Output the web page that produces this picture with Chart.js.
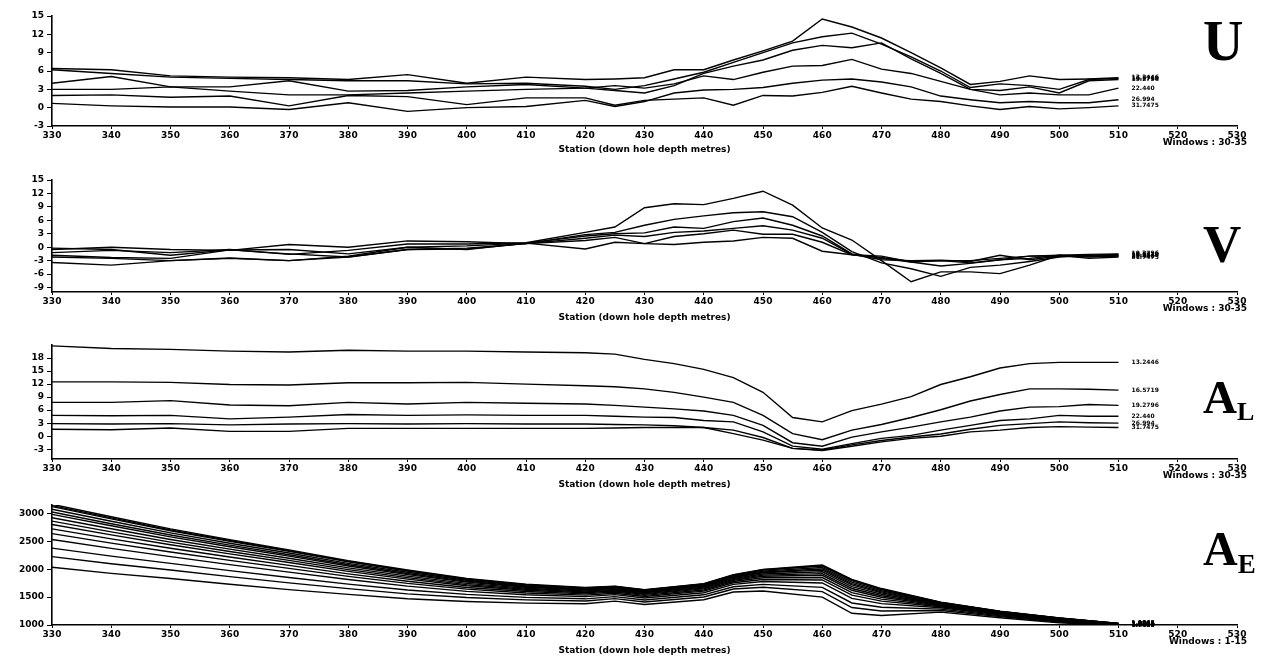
<!DOCTYPE html>
<html><head><meta charset="utf-8">
<script src="https://cdn.jsdelivr.net/npm/chart.js@4.4.1/dist/chart.umd.min.js"></script>
<style>
html,body{margin:0;padding:0;background:#fff;}
#wrap{position:relative;width:1266px;height:656px;overflow:hidden;background:#fff;}
canvas{position:absolute;left:0;}
.big{position:absolute;font-family:"Liberation Serif","Times New Roman",serif;font-weight:bold;color:#000;line-height:1;white-space:nowrap;}
.big span{position:relative;}
</style></head><body>
<div id="wrap">
<canvas id="cU" width="1266" height="160" style="top:0px"></canvas>
<canvas id="cV" width="1266" height="168" style="top:160px"></canvas>
<canvas id="cL" width="1266" height="166" style="top:328px"></canvas>
<canvas id="cE" width="1266" height="162" style="top:494px"></canvas>
<div class="big" style="left:1203px;top:13px;font-size:56px">U</div>
<div class="big" style="left:1203px;top:218px;font-size:53px">V</div>
<div class="big" style="left:1203px;top:374px;font-size:47px">A<span style="font-size:26px;top:7px">L</span></div>
<div class="big" style="left:1203px;top:525px;font-size:48px">A<span style="font-size:27px;top:8px">E</span></div>
</div>
<script>
// ---------- data ----------
const stations = [330,340,350,360,370,380,390,400,410,420,425,430,435,440,445,450,455,460,465,470,475,480,485,490,495,500,505,510];
const windowLabels = ['13.2446','16.5719','19.2796','22.440','26.994','31.7475'];

const U1 = [6.4,6.2,5.2,5.0,4.9,4.6,5.4,4.0,5.0,4.6, 4.7,4.9,6.2,6.2,7.8,9.3,10.9,14.5,13.2,11.4,9.0,6.5,3.8,4.3,5.2,4.6,4.7,4.9];
const U2 = [6.2,5.6,5.0,4.8,4.6,4.4,4.4,3.9,4.0,3.5, 3.0,3.6,4.7,5.8,7.4,9.0,10.6,11.6,12.2,10.4,8.3,6.0,3.3,3.9,3.6,3.0,4.6,4.8];
const U3 = [4.0,5.1,3.4,3.4,4.4,2.7,2.8,3.4,3.8,3.2, 2.8,2.4,3.6,5.6,6.8,7.8,9.4,10.2,9.8,10.6,8.0,5.6,3.0,2.8,3.4,2.4,4.4,4.6];
const U4 = [3.0,3.0,3.4,2.7,2.1,2.1,2.4,2.7,3.0,3.2, 3.6,3.2,3.9,5.2,4.6,5.8,6.8,6.9,7.9,6.3,5.6,4.3,3.0,2.1,2.4,2.1,2.1,3.2];
const U5 = [0.7,0.3,0.1,0.1,-0.3,0.8,-0.6,0.0,0.2,1.2, 0.2,1.0,2.4,2.9,3.0,3.3,4.0,4.5,4.7,4.2,3.4,1.9,1.3,0.8,1.0,0.8,0.8,1.3];
const U6 = [2.0,2.1,1.7,1.9,0.3,2.0,1.8,0.5,1.6,1.6, 0.4,1.2,1.4,1.6,0.4,2.0,1.9,2.5,3.5,2.4,1.4,1.0,0.3,-0.3,0.2,-0.2,0.0,0.3];

const V1 = [-1.2,-0.7,-1.2,-0.5,-1.6,-0.7,0.7,0.7,1.0,3.3, 4.5,8.8,9.7,9.5,10.9,12.5,9.4,4.3,1.6,-3.0,-7.7,-5.5,-5.5,-5.9,-4.0,-1.8,-2.0,-1.8];
const V2 = [-0.5,0.0,-0.5,-0.7,0.6,0.0,1.4,1.2,0.8,2.8, 3.3,4.9,6.2,7.0,7.7,7.9,6.8,3.3,-1.0,-3.5,-4.8,-6.5,-4.5,-4.0,-3.2,-2.2,-1.8,-1.6];
const V3 = [-0.2,-0.5,-1.8,-0.6,-0.5,-1.5,0.0,0.3,0.9,2.5, 3.0,3.2,4.5,4.2,5.7,6.5,4.9,2.5,-1.5,-2.5,-3.3,-4.2,-3.6,-2.8,-2.5,-1.8,-1.6,-1.5];
const V4 = [-1.8,-2.3,-2.5,-0.6,-1.5,-2.2,-0.5,-0.4,0.8,2.0, 2.7,2.4,3.3,3.6,4.2,4.8,3.8,2.0,-1.6,-2.8,-3.0,-2.9,-3.2,-1.8,-2.8,-2.0,-2.2,-2.0];
const V5 = [-2.2,-2.5,-3.0,-2.4,-3.0,-2.2,-0.5,-0.2,0.8,1.5, 2.2,0.8,2.4,3.0,3.8,2.9,2.9,1.1,-1.7,-2.3,-3.2,-3.0,-3.0,-2.5,-2.0,-1.9,-2.0,-1.9];
const V6 = [-3.4,-4.0,-3.0,-2.5,-3.0,-2.0,0.0,-0.5,0.9,-0.4, 1.1,0.8,0.6,1.1,1.4,2.2,2.0,-0.9,-1.7,-2.0,-3.3,-3.0,-3.5,-2.8,-2.0,-1.8,-2.5,-2.2];

const L1 = [20.8,20.2,20.0,19.6,19.4,19.8,19.6,19.6,19.4,19.2, 18.9,17.7,16.7,15.4,13.5,10.1,4.3,3.3,5.9,7.4,9.1,11.9,13.7,15.7,16.7,17.0,17.0,17.0];
const L2 = [12.5,12.5,12.4,11.9,11.8,12.3,12.3,12.4,12.0,11.6, 11.4,10.9,10.1,9.0,7.8,4.8,0.6,-0.8,1.4,2.7,4.3,6.1,8.1,9.6,10.9,10.9,10.8,10.6];
const L3 = [7.8,7.8,8.2,7.2,7.0,7.8,7.4,7.8,7.6,7.4, 7.1,6.7,6.3,5.8,4.8,2.5,-1.5,-2.3,-0.2,1.0,2.1,3.3,4.4,5.8,6.7,6.8,7.3,7.1];
const L4 = [4.8,4.7,4.8,4.0,4.4,5.0,4.8,4.9,4.8,4.8, 4.6,4.4,4.3,3.6,3.3,1.0,-2.3,-3.0,-1.7,-0.5,0.2,1.4,2.5,3.6,4.0,4.8,4.6,4.6];
const L5 = [2.9,2.8,2.9,2.6,2.8,2.9,2.8,2.9,2.8,2.8, 2.7,2.6,2.4,2.0,1.4,-0.3,-2.8,-3.2,-2.0,-1.0,-0.2,0.5,1.6,2.5,2.9,3.3,3.1,3.0];
const L6 = [1.6,1.5,1.9,1.1,1.1,1.8,1.8,1.8,1.8,1.8, 1.9,2.0,2.0,2.0,0.6,-0.9,-2.8,-3.3,-2.3,-1.3,-0.5,0.0,1.0,1.4,2.0,2.2,2.1,2.0];

const stationsE = [330,340,350,360,370,380,390,400,410,420,425,430,440,445,450,460,465,470,480,490,500,510];
const E1  = [3163,2940,2722,2529,2347,2153,1985,1834,1731,1671,1694,1634,1740,1900,1997,2075,1816,1653,1410,1247,1127,1030];
const E2  = [3140,2920,2704,2513,2333,2141,1975,1826,1724,1665,1689,1629,1734,1894,1989,2063,1804,1643,1406,1245,1125,1029];
const E3  = [3121,2902,2689,2499,2321,2131,1966,1819,1718,1660,1684,1624,1729,1889,1983,2054,1794,1635,1403,1243,1124,1029];
const E4  = [3073,2859,2651,2465,2290,2105,1944,1801,1704,1648,1673,1613,1717,1875,1966,2029,1768,1614,1396,1238,1120,1027];
const E5  = [3024,2815,2613,2431,2259,2079,1922,1783,1689,1635,1661,1601,1705,1862,1949,2004,1741,1593,1388,1233,1116,1025];
const E6  = [2982,2778,2580,2401,2233,2056,1903,1768,1677,1625,1651,1591,1694,1851,1935,1983,1719,1576,1381,1228,1113,1024];
const E7  = [2923,2724,2533,2359,2195,2024,1876,1746,1659,1609,1637,1577,1679,1834,1914,1953,1687,1550,1372,1222,1108,1021];
const E8  = [2862,2669,2485,2316,2157,1992,1848,1724,1640,1594,1623,1563,1663,1817,1893,1921,1654,1524,1362,1216,1104,1019];
const E9  = [2802,2615,2438,2274,2119,1960,1821,1702,1623,1578,1609,1549,1648,1801,1873,1891,1622,1498,1352,1210,1099,1017];
const E10 = [2723,2544,2376,2218,2069,1917,1785,1673,1599,1558,1590,1530,1628,1779,1846,1851,1580,1464,1340,1201,1093,1014];
const E11 = [2637,2467,2308,2157,2015,1872,1745,1642,1573,1536,1570,1510,1606,1756,1816,1807,1534,1427,1326,1192,1086,1011];
const E12 = [2531,2372,2225,2082,1948,1815,1697,1603,1541,1509,1545,1485,1579,1727,1780,1753,1477,1382,1309,1181,1078,1008];
const E13 = [2378,2235,2105,1974,1851,1733,1628,1548,1495,1469,1509,1449,1541,1685,1727,1675,1395,1317,1285,1166,1067,1002];
const E14 = [2226,2098,1985,1867,1755,1652,1558,1492,1450,1430,1473,1413,1502,1644,1675,1598,1313,1251,1261,1150,1055,997];
const E15 = [2034,1925,1834,1731,1634,1549,1471,1422,1392,1381,1428,1368,1453,1591,1609,1500,1210,1169,1230,1130,1040,990];
const aeLabels = ['1.0395','1.0805','1.1165','1.1545','1.1965','1.2385','1.2845','1.3355','1.3905','1.4495','1.5145','1.5865','1.6655','1.7525','1.8485'];

const ticksU = [-3,0,3,6,9,12,15];
const ticksV = [-9,-6,-3,0,3,6,9,12,15];
const ticksL = [-3,0,3,6,9,12,15,18];
const ticksE = [1000,1500,2000,2500,3000];
const xTitle = 'Station (down hole depth metres)';

// ---------- chart setup ----------
Chart.defaults.font.family = '"DejaVu Sans", "Liberation Sans", sans-serif';
Chart.defaults.font.size = 9;
Chart.defaults.font.weight = 'bold';
Chart.defaults.color = '#000';

const panelDecor = {
  id: 'panelDecor',
  afterDatasetsDraw(chart, args, opts) {
    const ctx = chart.ctx;
    const xs = chart.scales.x;
    ctx.save();
    ctx.fillStyle = '#000';
    ctx.font = 'bold 6px "DejaVu Sans"';
    ctx.textBaseline = 'middle';
    ctx.textAlign = 'left';
    chart.data.datasets.forEach((ds, i) => {
      const meta = chart.getDatasetMeta(i);
      const pt = meta.data[meta.data.length - 1];
      if (pt && ds.label) ctx.fillText(ds.label, pt.x + 13, pt.y);
    });
    if (opts.windows) {
      ctx.font = 'bold 9px "DejaVu Sans"';
      ctx.textAlign = 'right';
      ctx.fillText(opts.windows, xs.right + 10, xs.top + 17);
    }
    ctx.restore();
  }
};

function makeChart(id, xs, series, labels, yMin, yMax, yTicks, windows, band) {
  const datasets = series.map((s, i) => ({
    label: labels[i],
    data: xs.map((x, j) => ({x: x, y: s[j]})),
    borderColor: '#000', borderWidth: 1.4, pointRadius: 0, tension: 0, fill: false
  }));
  return new Chart(document.getElementById(id), {
    type: 'line',
    data: { datasets },
    options: {
      responsive: false, animation: false, devicePixelRatio: 1,
      layout: { padding: { left: 0, right: 29, top: band.top, bottom: 0 } },
      plugins: { legend: { display: false }, tooltip: { enabled: false }, panelDecor: { windows } },
      scales: {
        x: {
          type: 'linear', min: 330, max: 530,
          ticks: { stepSize: 10, autoSkip: false, maxRotation: 0, padding: 1, callback: v => String(v) },
          grid: { drawOnChartArea: false, drawTicks: true, tickLength: 3, color: '#000', lineWidth: 1 },
          border: { display: true, color: '#000', width: 1.6 },
          title: { display: true, text: xTitle, font: { size: 9, weight: 'bold' }, padding: { top: 0, bottom: band.titlePad } },
          afterFit: s => { s.height = band.axisH; }
        },
        y: {
          min: yMin, max: yMax,
          afterBuildTicks: s => { s.ticks = yTicks.map(v => ({ value: v })); },
          ticks: { autoSkip: false, padding: 3, callback: v => String(v) },
          grid: { drawOnChartArea: false, drawTicks: true, tickLength: 5, color: '#000', lineWidth: 1 },
          border: { display: true, color: '#000', width: 1.6 },
          afterFit: s => { s.width = 52; }
        }
      }
    },
    plugins: [panelDecor]
  });
}

makeChart('cU', stations, [U1,U2,U3,U4,U5,U6], windowLabels, -3, 15, ticksU, 'Windows : 30-35', { top: 16, axisH: 34, titlePad: 4.6 });
makeChart('cV', stations, [V1,V2,V3,V4,V5,V6], windowLabels, -10, 15, ticksV, 'Windows : 30-35', { top: 20, axisH: 36, titlePad: 4.6 });
makeChart('cL', stations, [L1,L2,L3,L4,L5,L6], windowLabels, -5.25, 21, ticksL, 'Windows : 30-35', { top: 17, axisH: 35, titlePad: 3.6 });
makeChart('cE', stationsE, [E1,E2,E3,E4,E5,E6,E7,E8,E9,E10,E11,E12,E13,E14,E15], aeLabels, 1000, 3150, ticksE, 'Windows : 1-15', { top: 11, axisH: 31, titlePad: 0 });
</script>
</body></html>
